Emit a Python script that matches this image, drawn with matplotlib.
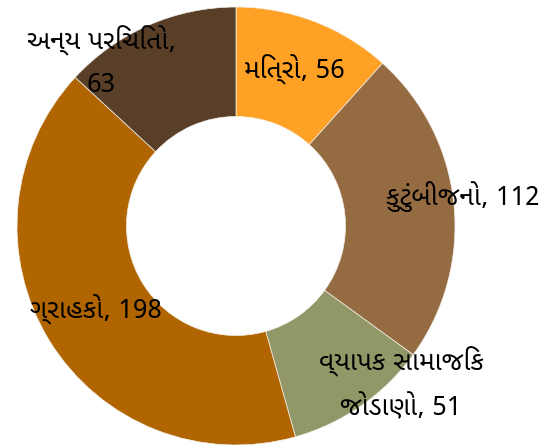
import matplotlib
matplotlib.use("Agg")
import matplotlib.pyplot as plt
from matplotlib import font_manager

label_texts = ["મિત્રો, 56", "કુટુંબીજનો, 112", "વ્યાપક સામાજિક\nજોડાણો, 51", "ગ્રાહકો, 198", "અન્ય પરિચિતો,\n63"]
values = [56, 112, 51, 198, 63]
colors = ["#FFA124", "#956B42", "#919767", "#B06500", "#5A3F28"]

# pick an installed font with Gujarati glyphs
guj_family = None
prefs = ["NotoSansGujaratiUI-Regular", "NotoSansGujarati[", "HindVadodara-Regular", "MuktaVaani-Regular", "FreeSerif"]
all_fonts = sorted(font_manager.findSystemFonts())
for p in prefs:
    for f in all_fonts:
        if p in f:
            try:
                font_manager.fontManager.addfont(f)
                guj_family = font_manager.FontProperties(fname=f).get_name()
            except Exception:
                guj_family = None
            break
    if guj_family:
        break
plt.rcParams["font.family"] = ([guj_family] if guj_family else []) + ["DejaVu Sans"]

W, H = 556, 445
fig = plt.figure(figsize=(W / 100, H / 100), dpi=100)
cx, cy, R = 236, 226, 219
ax = fig.add_axes([(cx - R) / W, (H - cy - R) / H, 2 * R / W, 2 * R / H])
ax.pie(values, colors=colors, startangle=90, counterclock=False, radius=1.0,
       wedgeprops=dict(width=0.5, edgecolor="#f4f0ea", linewidth=0.5))
ax.set_xlim(-1, 1)
ax.set_ylim(-1, 1)
ax.set_aspect("equal")
ax.axis("off")

# label positions (pixel layout converted to data coords)
label_px = [(294, 70), (463, 197), (401, 384), (96, 310), (101, 62)]
for txt, (px, py) in zip(label_texts, label_px):
    ax.text((px - cx) / R, (cy - py) / R, txt, ha="center", va="center",
            fontsize=19, color="black", linespacing=1.8, clip_on=False)

fig.savefig("out.png", dpi=100)
